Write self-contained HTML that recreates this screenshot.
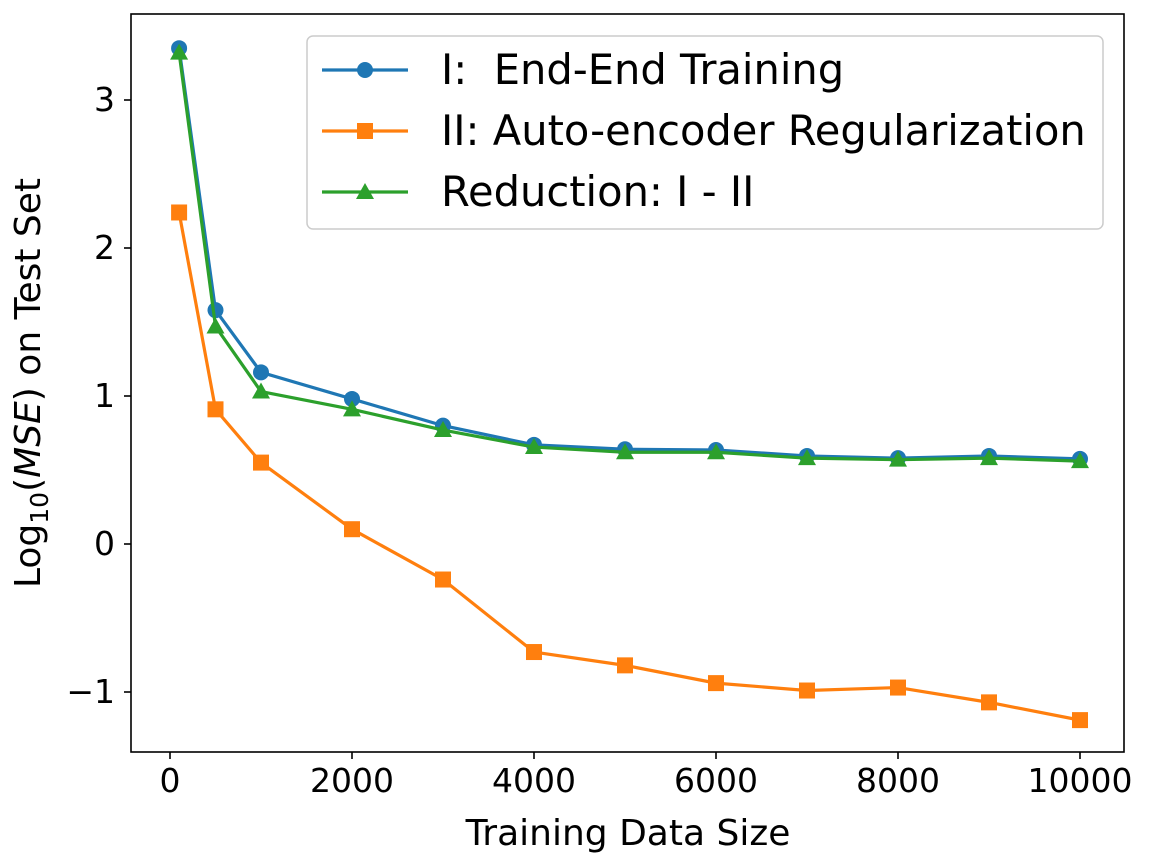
<!DOCTYPE html>
<html><head><meta charset="utf-8"><style>
html,body{margin:0;padding:0;background:#fff;}
svg text{font-family:"DejaVu Sans","Liberation Sans",sans-serif;fill:#000;white-space:pre;}
</style></head><body>
<svg id="chart" width="1169" height="855" xmlns="http://www.w3.org/2000/svg">
<rect x="0" y="0" width="1169" height="855" fill="#fff"/>
<g id="plot"></g>
<rect x="131" y="14" width="993" height="738" fill="none" stroke="#000" stroke-width="1.6"/>
<g id="xt"></g>
<g id="yt"></g>
<text x="628" y="845" font-size="36" text-anchor="middle">Training Data Size</text>
<text transform="translate(40,383) rotate(-90)" font-size="36" text-anchor="middle">Log<tspan font-size="25" dy="8">10</tspan><tspan dy="-8">(</tspan><tspan font-style="italic">MSE</tspan>) on Test Set</text>
<g id="legend">
<rect x="307" y="36" width="796" height="193" rx="6" fill="#fff" fill-opacity="0.8" stroke="#ccc" stroke-width="1.5"/>
</g>
</svg>
<script>
const xs = [100,500,1000,2000,3000,4000,5000,6000,7000,8000,9000,10000];
const endEnd = [3.35,1.58,1.16,0.98,0.80,0.67,0.64,0.635,0.595,0.58,0.595,0.575];
const autoEnc = [2.24,0.91,0.55,0.10,-0.24,-0.73,-0.82,-0.94,-0.99,-0.97,-1.07,-1.19];
const reduction = [3.32,1.47,1.03,0.91,0.77,0.655,0.62,0.62,0.58,0.57,0.58,0.56];
const xTicks = [0,2000,4000,6000,8000,10000];
const yTicks = [-1,0,1,2,3];
const yTickLabels = ["\u22121","0","1","2","3"];
const names = ["I:  End-End Training","II: Auto-encoder Regularization","Reduction: I - II"];

const NS="http://www.w3.org/2000/svg";
function X(v){return 170+v*0.091;}
function Y(v){return 544-v*148;}
function mk(tag,attrs,parent){const e=document.createElementNS(NS,tag);for(const k in attrs)e.setAttribute(k,attrs[k]);parent.appendChild(e);return e;}
const xt=document.getElementById('xt'),yt=document.getElementById('yt'),plot=document.getElementById('plot'),lg=document.getElementById('legend');
xTicks.forEach(t=>{
  const l=mk('line',{x1:X(t),x2:X(t),y1:752,y2:759,stroke:'#000','stroke-width':1.6},xt);
  
  
  const tx=mk('text',{x:X(t),y:792,'font-size':33,'text-anchor':'middle'},xt);tx.textContent=t;
  
  
});
yTicks.forEach((t,i)=>{
  const l=mk('line',{x1:124,x2:131,y1:Y(t),y2:Y(t),stroke:'#000','stroke-width':1.6},yt);
  
  
  const tx=mk('text',{x:115,y:Y(t)+11,'font-size':33,'text-anchor':'end'},yt);tx.textContent=yTickLabels[i];
  
  
});
function marker(type,cx,cy,color,parent){
  let e;
  if(type==='o')e=mk('circle',{cx:cx,cy:cy,r:8,fill:color},parent);
  else if(type==='s')e=mk('rect',{x:cx-8,y:cy-8,width:16,height:16,fill:color},parent);
  else e=mk('polygon',{points:`${cx},${cy-9} ${cx+9},${cy+7} ${cx-9},${cy+7}`,fill:color},parent);
  return e;
}
const series=[[endEnd,'#1f77b4','o','series-end-end'],[autoEnc,'#ff7f0e','s','series-auto-encoder'],[reduction,'#2ca02c','^','series-reduction']];
series.forEach(([vals,c,m,n],si)=>{
  const g=mk('g',{},plot);
  
  
  mk('polyline',{points:vals.map((v,i)=>X(xs[i])+','+Y(v)).join(' '),fill:'none',stroke:c,'stroke-width':3.2,'stroke-linejoin':'round'},g);
  vals.forEach((v,i)=>{const p=marker(m,X(xs[i]),Y(v),c,g);
    
    });
  const ly=70+si*61;
  const le=mk('g',{},lg);
  
  
  mk('line',{x1:322,x2:408,y1:ly,y2:ly,stroke:c,'stroke-width':3.2},le);
  marker(m,365,ly,c,le);
  const tx=mk('text',{x:441,y:ly+14,'font-size':41.6},le);tx.textContent=names[si];
});
</script>
</body></html>
